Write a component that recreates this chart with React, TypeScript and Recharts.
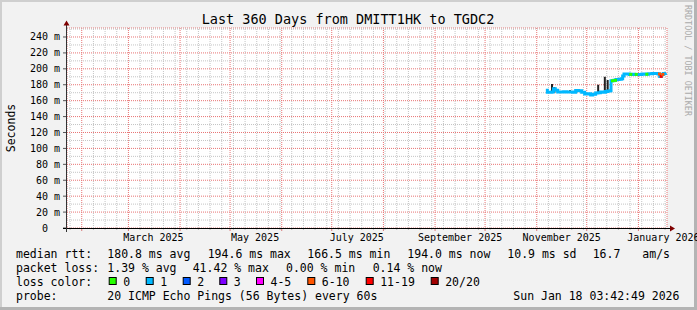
import { CartesianGrid, ComposedChart, ErrorBar, Line, ReferenceLine, Scatter, XAxis, YAxis } from "recharts";

const MONO = '"DejaVu Sans Mono", "Liberation Mono", monospace';
const DAY = 86400000;
// graph covers the 360 days ending Sun Jan 18 03:42:49 2026
const periodStart = Date.UTC(2025, 0, 23, 3, 42, 49);
const toDay = (iso: string) => (Date.parse(iso + "T00:00:00Z") - periodStart) / DAY;

// x axis
const monthStarts = [
  "2025-02-01", "2025-03-01", "2025-04-01", "2025-05-01", "2025-06-01", "2025-07-01",
  "2025-08-01", "2025-09-01", "2025-10-01", "2025-11-01", "2025-12-01", "2026-01-01",
];
const monthLabelDates = ["2025-03-16", "2025-05-16", "2025-07-16", "2025-09-16", "2025-11-16", "2026-01-16"];
const monthLabelNames = ["March 2025", "May 2025", "July 2025", "September 2025", "November 2025", "January 2026"];
const firstWeek = "2025-01-25";

// y axis (ms)
const majorTicks = [0, 20, 40, 60, 80, 100, 120, 140, 160, 180, 200, 220, 240];
const minorTicks = [10, 30, 50, 70, 90, 110, 130, 150, 170, 190, 210, 230, 250];

// median rtt, days since period start
const sampleDays = [
  287.3, 288.2, 289.6, 290.8, 291.8, 293.0, 294.4, 296.2, 298.0, 299.8, 301.6, 303.4,
  305.2, 307.0, 308.8, 310.6, 312.4, 314.2, 315.4, 317.2, 318.6, 320.0, 321.6, 323.0,
  324.4, 325.6, 326.4, 328.2, 329.4, 331.2, 332.6, 333.4, 334.2, 336.0, 337.4, 339.0,
  340.6, 342.6, 345.0, 347.0, 349.0, 351.0, 353.0, 354.6, 355.6, 356.6, 357.8, 359.4,
];
const medianMs = [
  173, 170.5, 170.5, 171, 175, 173, 171, 171, 171.3, 170.8, 171, 170.6,
  172.8, 172.5, 170.5, 168.5, 168.8, 167, 168.2, 169.5, 170, 171, 170.5, 171.5,
  172, 172.5, 185, 185.5, 186.5, 187, 187.5, 191, 193.5, 193.5, 193, 193.2,
  193, 193, 193.5, 193.2, 193.8, 194, 194, 193.5, 190.5, 193, 194.2, 194.5,
];
// index into lossColors
const lossClass = [
  1, 1, 1, 1, 1, 1, 1, 1, 1, 1, 1, 1,
  1, 1, 1, 1, 1, 1, 1, 1, 1, 1, 1, 1,
  1, 1, 0, 0, 1, 1, 1, 1, 1, 1, 0, 1,
  0, 1, 1, 0, 1, 1, 1, 5, 6, 5, 1, 1,
];

// smoke spread
const smokeDays = [291.0, 292.4, 301.8, 305.5, 318.7, 322.7, 324.4];
const smokeLow = [171, 170, 169.5, 170, 170, 170.5, 171.5];
const smokeHigh = [181, 177, 173, 174, 180, 190, 186];

const lossColors = ["#26ff00", "#00b8ff", "#0059ff", "#7e00ff", "#ff00ff", "#ff5500", "#ff0000", "#a10000"];
const lossLabels = ["0", "1", "2", "3", "4-5", "6-10", "11-19", "20/20"];

const rttStats = ["180.8 ms avg", "194.6 ms max", "166.5 ms min", "194.0 ms now", "10.9 ms sd", "16.7", "am/s"];
const lossStats = ["1.39 % avg", "41.42 % max", "0.00 % min", "0.14 % now"];
const probeText = "20 ICMP Echo Pings (56 Bytes) every 60s";
const stampText = "Sun Jan 18 03:42:49 2026";

const monthDays = monthStarts.map(toDay);
const labelDays = monthLabelDates.map(toDay);
const weekDays: number[] = [];
for (let d = toDay(firstWeek); d < 360; d += 7) {
  if (!monthDays.some((m) => Math.abs(m - d) < 0.01)) weekDays.push(d);
}
const labelByDay = new Map(labelDays.map((d, i) => [d, monthLabelNames[i]]));
const monthSet = new Set(monthDays);

const medianRows = sampleDays.map((d, i) => ({ day: d, median: medianMs[i], loss: lossClass[i] }));
const smokeRows = smokeDays.map((d, i) => ({ day: d, lo: smokeLow[i], spread: [0, smokeHigh[i] - smokeLow[i]] }));

const minorGrid = { stroke: "#c4c4c4", strokeDasharray: "1 1" };

function XTick(props: any) {
  const { x, y, payload } = props;
  const v = payload.value;
  if (labelByDay.has(v)) {
    return (
      <text x={x} y={y + 13} textAnchor="middle" fontFamily={MONO} fontSize={10} fill="#000">
        {labelByDay.get(v)}
      </text>
    );
  }
  if (monthSet.has(v)) return <line x1={x} x2={x} y1={y} y2={y + 3} stroke="#d87a7a" />;
  return <line x1={x} x2={x} y1={y} y2={y + 2} stroke="#bbbbbb" />;
}

function YTick(props: any) {
  const { x, y, payload } = props;
  const label = payload.value === 0 ? "0  " : `${payload.value} m`;
  return (
    <text x={x} y={y + 3.5} textAnchor="end" fontFamily={MONO} fontSize={10} fill="#000" style={{ whiteSpace: "pre" }}>
      {label}
    </text>
  );
}

function LossDot(props: any) {
  const { cx, cy, payload, index } = props;
  if (cx == null || cy == null || payload.loss == null || payload.loss === 1) return <g key={`ld${index}`} />;
  return <rect key={`ld${index}`} x={cx} y={cy - 1.5} width={3} height={3} fill={lossColors[payload.loss]} />;
}

const legendX = 107.3;
const boxX = [108.7, 145.7, 182.7, 219.3, 256, 307.3, 365.7, 430.7];

export default function App() {
  return (
    <div style={{ position: "absolute", left: 0, top: 0, width: 697, height: 310, background: "#f2f2f2" }}>
      <svg width={697} height={310} style={{ position: "absolute", left: 0, top: 0 }}>
        <rect x={0} y={0} width={697} height={2} fill="#cfcfcf" />
        <rect x={0} y={0} width={2} height={310} fill="#cfcfcf" />
        <rect x={0} y={307} width={697} height={3} fill="#b4b4b4" />
        <rect x={694} y={0} width={3} height={310} fill="#b4b4b4" />
      </svg>
      <div style={{ position: "absolute", left: 0, top: 0 }}>
        <ComposedChart width={697} height={310} data={medianRows} margin={{ top: 28, right: 30, bottom: 0, left: 0 }}>
          <CartesianGrid horizontal={false} vertical={false} fill="#ffffff" />
          {minorTicks.map((v) => (
            <ReferenceLine key={`hm${v}`} y={v} {...minorGrid} />
          ))}
          {weekDays.map((d) => (
            <ReferenceLine key={`vm${d}`} x={d} {...minorGrid} />
          ))}
          {/* major grid: 20 ms rows from the y axis, month starts from a hidden axis */}
          <CartesianGrid xAxisId="months" stroke="#e87474" strokeDasharray="1 1" />
          <XAxis
            dataKey="day"
            type="number"
            domain={[0, 360]}
            ticks={[...weekDays, ...monthDays, ...labelDays]}
            interval={0}
            tickLine={false}
            axisLine={false}
            tickSize={0}
            tickMargin={0}
            height={82}
            tick={XTick}
            allowDataOverflow
          />
          <XAxis xAxisId="months" dataKey="day" type="number" domain={[0, 360]} ticks={monthDays} interval={0} hide allowDataOverflow />
          <YAxis
            type="number"
            domain={[0, 251.3]}
            ticks={majorTicks}
            interval={0}
            width={67}
            tickSize={4}
            tickMargin={3}
            tickLine={{ stroke: "#555" }}
            axisLine={false}
            tick={YTick}
            allowDataOverflow
          />
          <Scatter data={smokeRows} dataKey="lo" shape={() => <g />} isAnimationActive={false}>
            <ErrorBar dataKey="spread" direction="y" width={0} stroke="#222222" strokeWidth={2} />
          </Scatter>
          <Line
            type="stepAfter"
            dataKey="median"
            stroke="#00b8ff"
            strokeWidth={3}
            dot={LossDot}
            activeDot={false}
            isAnimationActive={false}
          />
        </ComposedChart>
      </div>

      <svg width={697} height={310} style={{ position: "absolute", left: 0, top: 0, pointerEvents: "none" }}>
        <text x={348} y={24} textAnchor="middle" fontFamily={MONO} fontSize={13.5} fill="#000">
          Last 360 Days from DMITT1HK to TGDC2
        </text>
        <text transform="translate(15,128) rotate(-90)" textAnchor="middle" fontFamily={MONO} fontSize={11.5} fill="#000">
          Seconds
        </text>
        <text transform="translate(685,5) rotate(90)" fontFamily={MONO} fontSize={8.4} fill="#aaaaaa">
          RRDTOOL / TOBI OETIKER
        </text>

        <line x1={63} x2={670} y1={228.5} y2={228.5} stroke="#000" />
        <polygon points="670,225.5 675,228.5 670,231.5" fill="#7f0000" />
        <line x1={66.5} x2={66.5} y1={232} y2={25} stroke="#333" />
        <polygon points="63.5,25.5 66.5,20.5 69.5,25.5" fill="#7f0000" />

        <g fontFamily={MONO} fontSize={11.5} fill="#000" style={{ whiteSpace: "pre" }}>
          <text x={16} y={258.3}>median rtt:</text>
          {[107.3, 207.7, 307.3, 407.3, 507.3, 592.7, 642.3].map((x, i) => (
            <text key={`r${i}`} x={x} y={258.3}>{rttStats[i]}</text>
          ))}
          <text x={16} y={272.2}>packet loss:</text>
          {[107.3, 192.7, 286, 372.7].map((x, i) => (
            <text key={`l${i}`} x={x} y={272.2}>{lossStats[i]}</text>
          ))}
          <text x={16} y={286.2}>loss color:</text>
          {boxX.map((x, i) => (
            <g key={`b${i}`}>
              <rect x={x + 0.5} y={277.5} width={7} height={7} fill={lossColors[i]} stroke="#000" />
              <text x={x + 14.5} y={286.2}>{lossLabels[i]}</text>
            </g>
          ))}
          <text x={16} y={300}>probe:</text>
          <text x={legendX} y={300}>{probeText}</text>
          <text x={513.3} y={300}>{stampText}</text>
        </g>
      </svg>
    </div>
  );
}
